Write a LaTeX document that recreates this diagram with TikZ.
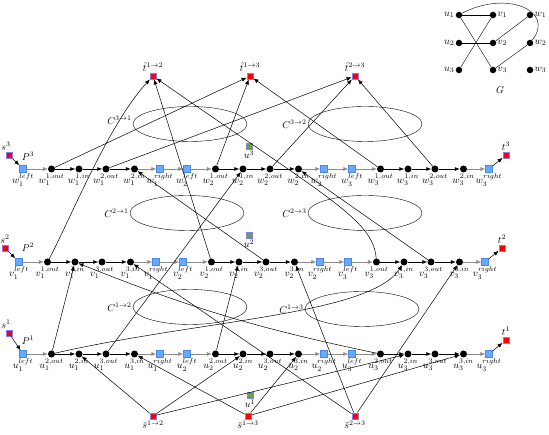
\documentclass[tikz,border=0pt]{standalone}
\usepackage{amsmath}
\usepackage{amssymb}
\usepackage{xcolor}
\usepackage{tikz}
\usetikzlibrary{arrows.meta,shapes.geometric}

\definecolor{termred}{HTML}{FF0000}
\definecolor{termrim}{HTML}{8080FF}
\definecolor{portblue}{HTML}{66AAFF}
\definecolor{portrim}{HTML}{4D88E6}
\definecolor{hubgreen}{HTML}{66AA22}

\begin{document}
\begin{tikzpicture}[
  x=1pt, y=1pt,
  dot/.style={circle, fill=black, minimum size=7pt, inner sep=0pt},
  port/.style={rectangle, draw=portrim, fill=portblue, minimum size=7pt, inner sep=0pt},
  term/.style={rectangle, draw=termrim, fill=termred, minimum size=6.5pt, inner sep=0pt},
  hub/.style={rectangle, draw=termrim, fill=hubgreen, minimum size=6.5pt, inner sep=0pt},
  gadget/.style={draw, ellipse, minimum width=114pt, minimum height=35pt, inner sep=0pt},
  arr/.style={-{Latex[length=5pt,width=4pt]}, line width=0.5pt},
  pathedge/.style={arr, line width=0.7pt},
  sqedge/.style={arr, draw=black!45},
  every label/.style={inner sep=1pt}
]
\useasboundingbox (0,0) rectangle (549,435);

% the three paths P^1, P^2, P^3
\foreach \row/\pa/\pb/\yy/\dx in {u/2/3/81/0, v/1/3/173/-4, w/1/2/266/0} {
  \foreach \gi/\gx in {1/23, 2/187, 3/352} {
    \node[port, label={below:$\row_{\gi}^{left}$}] (\row\gi l) at (\gx+\dx, \yy) {};
    \node[dot, label={below:$\row_{\gi}^{\pa,out}$}] (\row\gi o\pa) at (\gx+\dx+28.5, \yy) {};
    \node[dot, label={below:$\row_{\gi}^{\pa,in}$}] (\row\gi i\pa) at (\gx+\dx+56, \yy) {};
    \node[dot, label={below:$\row_{\gi}^{\pb,out}$}] (\row\gi o\pb) at (\gx+\dx+83, \yy) {};
    \node[dot, label={below:$\row_{\gi}^{\pb,in}$}] (\row\gi i\pb) at (\gx+\dx+111.5, \yy) {};
    \node[port, label={below:$\row_{\gi}^{right}$}] (\row\gi r) at (\gx+\dx+137, \yy) {};
    \draw[sqedge] (\row\gi l) -- (\row\gi o\pa);
    \draw[pathedge] (\row\gi o\pa) -- (\row\gi i\pa);
    \draw[pathedge] (\row\gi i\pa) -- (\row\gi o\pb);
    \draw[pathedge] (\row\gi o\pb) -- (\row\gi i\pb);
    \draw[sqedge] (\row\gi i\pb) -- (\row\gi r);
  }
  \draw[sqedge] (\row1r) -- (\row2l);
  \draw[sqedge] (\row2r) -- (\row3l);
}

% terminals of the paths
\node[term, label={[xshift=-3pt]above:$s^1$}] (s1) at (9,102) {};
\node[term, label={[xshift=0pt]above:$s^2$}] (s2) at (5,187) {};
\node[term, label={[xshift=-3pt]above:$s^3$}] (s3) at (9,280) {};
\node[term, label=above:$t^1$] (t1) at (506,95) {};
\node[term, label=above:$t^2$] (t2) at (502,187) {};
\node[term, label=above:$t^3$] (t3) at (506,280) {};
\node (P1) at (28,95) {$P^1$};
\node (P2) at (28,188) {$P^2$};
\node (P3) at (28,279) {$P^3$};
\draw[arr] (s1) -- (u1l);
\draw[arr] (s2) -- (v1l);
\draw[arr] (s3) -- (w1l);
\draw[arr] (u3r) -- (t1);
\draw[arr] (v3r) -- (t2);
\draw[arr] (w3r) -- (t3);

% pair gadgets
\node[gadget, label={[yshift=4pt]left:$C^{3\to1}$}] (C31) at (190,311) {};
\node[gadget, label=left:$C^{3\to2}$] (C32) at (365,311) {};
\node[gadget, label=left:$C^{2\to1}$] (C21) at (187,222) {};
\node[gadget, label=left:$C^{2\to3}$] (C23) at (365,222) {};
\node[gadget, label=left:$C^{1\to2}$] (C12) at (190,128) {};
\node[gadget, label=left:$C^{1\to3}$] (C13) at (362,126) {};

\node[hub, label=below:$u^3$] (h3) at (249,289) {};
\node[hub, label=below:$u^2$] (h2) at (249,200) {};
\node[hub, label=below:$u^1$] (h1) at (250,40) {};

\node[term, label=above:$\hat{t}^{1\to2}$] (t12) at (153,359) {};
\node[term, label=above:$\hat{t}^{1\to3}$] (t13) at (250,359) {};
\node[term, label=above:$\hat{t}^{2\to3}$] (t23) at (355,359) {};
\node[term, label=below:$\bar{s}^{1\to2}$] (s12) at (153,19) {};
\node[term, label=below:$\bar{s}^{1\to3}$] (s13) at (248,19) {};
\node[term, label=below:$\bar{s}^{2\to3}$] (s23) at (355,19) {};

\foreach \gi in {1,2,3} {
  \draw[arr] (s12) -- (u\gi i2);
  \draw[arr] (s13) -- (u\gi i3);
  \draw[arr] (s23) -- (v\gi i3);
  \draw[arr] (w\gi o1) -- (t13);
  \draw[arr] (w\gi o2) -- (t23);
}
\draw[arr] (v1o1) .. controls (70,215) and (108,310) .. (t12);
\draw[arr] (v2o1) -- (t12);
\draw[arr] (v3o1) .. controls (373,215) and (331,235) .. (t12);

% edges of G
\draw[arr] (u1o2) -- (v1i1);
\draw[arr] (u1o2) .. controls (200,115) and (370,120) .. (v3i1);
\draw[arr] (u2o2) -- (v2i1);
\draw[arr] (u3o2) to[bend left=5] (v1i1);
\draw[arr] (u1o3) -- (w2i1);
\draw[arr] (v2o3) -- (w1i2);
\draw[arr] (v3o3) -- (w2i2);

% the graph G
\node[dot, minimum size=6.5pt, label=left:$u_1$] (gu1) at (459,420) {};
\node[dot, minimum size=6.5pt, label=right:$v_1$] (gv1) at (493,420) {};
\node[dot, minimum size=6.5pt, label=right:$w_1$] (gw1) at (530,420) {};
\node[dot, minimum size=6.5pt, label=left:$u_2$] (gu2) at (459,392) {};
\node[dot, minimum size=6.5pt, label=right:$v_2$] (gv2) at (493,392) {};
\node[dot, minimum size=6.5pt, label=right:$w_2$] (gw2) at (530,392) {};
\node[dot, minimum size=6.5pt, label=left:$u_3$] (gu3) at (459,365) {};
\node[dot, minimum size=6.5pt, label=right:$v_3$] (gv3) at (493,365) {};
\node[dot, minimum size=6.5pt, label=right:$w_3$] (gw3) at (530,365) {};
\node (G) at (500,345) {$G$};
\draw (gu1) -- (gv1);
\draw (gu1) -- (gv3);
\draw (gu2) -- (gv2);
\draw (gu3) -- (gv1);
\draw (gv2) -- (gw1);
\draw (gv3) -- (gw2);
\draw (gu1) .. controls (505,445) and (556,425) .. (gw2);
\end{tikzpicture}
\end{document}
